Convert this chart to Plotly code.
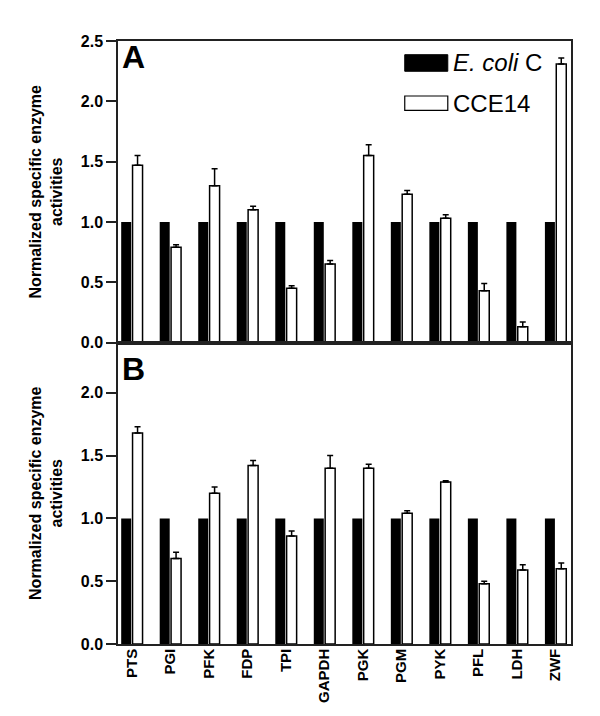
import plotly.graph_objects as go

categories = ["PTS", "PGI", "PFK", "FDP", "TPI", "GAPDH", "PGK", "PGM", "PYK", "PFL", "LDH", "ZWF"]

# Panel A
ecoli_A = [1.0] * 12
cce14_A = [1.47, 0.79, 1.30, 1.10, 0.45, 0.65, 1.55, 1.23, 1.03, 0.43, 0.13, 2.31]
cce14_A_err = [0.08, 0.02, 0.14, 0.03, 0.02, 0.03, 0.09, 0.03, 0.03, 0.06, 0.04, 0.05]

# Panel B
ecoli_B = [1.0] * 12
cce14_B = [1.68, 0.68, 1.20, 1.42, 0.86, 1.40, 1.40, 1.04, 1.29, 0.48, 0.59, 0.60]
cce14_B_err = [0.05, 0.05, 0.05, 0.04, 0.04, 0.10, 0.03, 0.02, 0.01, 0.02, 0.04, 0.045]

yticks_A = [0.0, 0.5, 1.0, 1.5, 2.0, 2.5]
yticks_B = [0.0, 0.5, 1.0, 1.5, 2.0]

FONT = "Arial, Liberation Sans, Helvetica, sans-serif"
LINE = "#222222"

fig = go.Figure()

def add_panel(xa, ya, ecoli, cce, err):
    fig.add_trace(go.Bar(x=categories, y=ecoli, xaxis=xa, yaxis=ya, name="E. coli C",
                         marker=dict(color="black", line=dict(color="black", width=0)),
                         showlegend=False))
    fig.add_trace(go.Bar(x=categories, y=cce, xaxis=xa, yaxis=ya, name="CCE14",
                         marker=dict(color="white", line=dict(color="black", width=1.5)),
                         error_y=dict(type="data", array=err, arrayminus=[0] * len(err),
                                      symmetric=False, color="black", thickness=1.5, width=3),
                         showlegend=False))

add_panel("x", "y", ecoli_A, cce14_A, cce14_A_err)
add_panel("x2", "y2", ecoli_B, cce14_B, cce14_B_err)

xrange = [-0.36, 11.40]
common_x = dict(type="category", range=xrange, showline=True, linecolor=LINE, linewidth=1.5,
                mirror=True, ticks="", showgrid=False, zeroline=False)
common_y = dict(showline=True, linecolor=LINE, linewidth=1.5, mirror=True, ticks="outside",
                ticklen=10, tickwidth=1.5, tickcolor=LINE, showgrid=False, zeroline=False,
                tickformat=".1f",
                tickfont=dict(family=FONT, size=16, color="black", weight="bold"),
                title=dict(text="Normalized specific enzyme<br>activities",
                           font=dict(family=FONT, size=16, color="black", weight="bold"),
                           standoff=14))

fig.update_layout(
    width=600, height=716,
    margin=dict(l=110, r=37, t=33, b=80),
    paper_bgcolor="white", plot_bgcolor="white",
    barmode="group", bargap=0.41, bargroupgap=0.12,
    font=dict(family=FONT, color="black"),
    xaxis=dict(common_x, domain=[0, 1], anchor="y", showticklabels=False),
    yaxis=dict(common_y, domain=[0.5, 1], anchor="x", range=[0, 2.5], tickvals=yticks_A),
    xaxis2=dict(common_x, domain=[0, 1], anchor="y2", showticklabels=True, tickangle=-90,
                ticklabelstandoff=-3,
                tickfont=dict(family=FONT, size=15, color="black", weight="bold")),
    yaxis2=dict(common_y, domain=[0, 0.5], anchor="x2", range=[0, 2.4], tickvals=yticks_B),
)

# Panel letters
fig.add_annotation(text="<b>A</b>", xref="paper", yref="paper", x=0.004, y=1.007,
                   xanchor="left", yanchor="top", showarrow=False,
                   font=dict(family=FONT, size=32, color="black"))
fig.add_annotation(text="<b>B</b>", xref="paper", yref="paper", x=0.004, y=0.489,
                   xanchor="left", yanchor="top", showarrow=False,
                   font=dict(family=FONT, size=32, color="black"))

# Legend (drawn)
fig.add_shape(type="rect", xref="paper", yref="paper", x0=0.633, x1=0.728, y0=0.9498, y1=0.9773,
              fillcolor="black", line=dict(color="black", width=1))
fig.add_shape(type="rect", xref="paper", yref="paper", x0=0.633, x1=0.728, y0=0.8851, y1=0.9088,
              fillcolor="white", line=dict(color="black", width=1.2))
fig.add_annotation(text="<i>E. coli</i> C", xref="paper", yref="paper", x=0.735, y=0.9636,
                   xanchor="left", yanchor="middle", showarrow=False,
                   font=dict(family=FONT, size=24, color="black"))
fig.add_annotation(text="CCE14", xref="paper", yref="paper", x=0.735, y=0.897,
                   xanchor="left", yanchor="middle", showarrow=False,
                   font=dict(family=FONT, size=24, color="black"))

fig.write_html("out.html")
